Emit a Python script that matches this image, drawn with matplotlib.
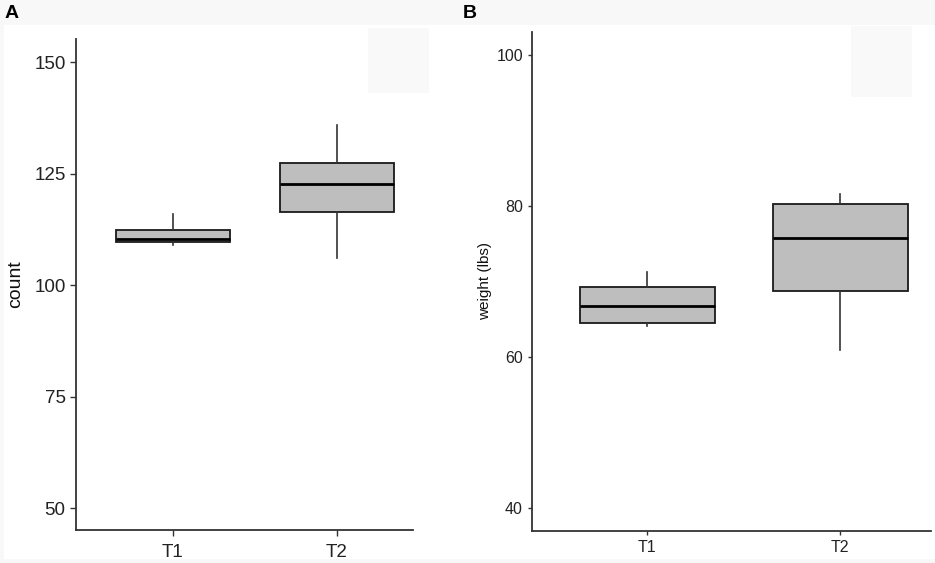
import matplotlib
matplotlib.use("Agg")
import matplotlib.pyplot as plt
from matplotlib.patches import Rectangle

plt.rcParams['font.family'] = ['Liberation Sans', 'DejaVu Sans']

# ---- data ----
groups = ["T1", "T2"]
# panel A: count
count_whislo = [109.1, 106.1]
count_q1 = [109.7, 116.4]
count_med = [110.4, 122.7]
count_q3 = [112.3, 127.5]
count_whishi = [115.9, 135.9]
count_ticks = [50, 75, 100, 125, 150]
# panel B: weight
weight_whislo = [64.1, 60.9]
weight_q1 = [64.5, 68.7]
weight_med = [66.8, 75.7]
weight_q3 = [69.3, 80.3]
weight_whishi = [71.3, 81.6]
weight_ticks = [40, 60, 80, 100]

W, H = 935, 563
fig = plt.figure(figsize=(W / 100, H / 100), dpi=100, facecolor='white')

band = '#f8f8f8'
fig.patches.append(Rectangle((0, 1 - 25 / H), 1, 25 / H, transform=fig.transFigure,
                             facecolor=band, edgecolor='none', zorder=-5))
fig.patches.append(Rectangle((0, 0), 1, 4 / H, transform=fig.transFigure,
                             facecolor=band, edgecolor='none', zorder=-5))
fig.patches.append(Rectangle((0, 0), 4 / W, 1, transform=fig.transFigure,
                             facecolor=band, edgecolor='none', zorder=-5))
for (x0, x1, y0, y1) in [(368, 429, 28, 93), (851, 912, 26, 97)]:
    fig.patches.append(Rectangle((x0 / W, 1 - y1 / H), (x1 - x0) / W, (y1 - y0) / H,
                                 transform=fig.transFigure, facecolor='#f9f9f9',
                                 edgecolor='none', zorder=-4))


def make_ax(l, r, b, t):
    return fig.add_axes([l / W, 1 - b / H, (r - l) / W, (b - t) / H])


def draw(ax, lo, q1, med, q3, hi, ticks, ylim, xlim, tsize, ylabel, lsize, labx,
         ticklen, xpad):
    stats = []
    for i, g in enumerate(groups):
        stats.append(dict(label=g, whislo=lo[i], q1=q1[i], med=med[i], q3=q3[i],
                          whishi=hi[i], fliers=[]))
    ax.bxp(stats, positions=[1, 2], widths=0.70, patch_artist=True, showcaps=False,
           showfliers=False,
           boxprops=dict(facecolor='#bebebe', edgecolor='#1a1a1a', linewidth=1.3),
           medianprops=dict(color='black', linewidth=2.0),
           whiskerprops=dict(color='#333333', linewidth=1.2))
    ax.set_xlim(*xlim)
    ax.set_ylim(*ylim)
    ax.set_yticks(ticks)
    ax.set_xticks([1, 2])
    ax.set_xticklabels(groups)
    for s in ['top', 'right']:
        ax.spines[s].set_visible(False)
    for s in ['left', 'bottom']:
        ax.spines[s].set_color('#333333')
        ax.spines[s].set_linewidth(1.3)
    ax.tick_params(axis='both', labelsize=tsize, colors='#333333', labelcolor='#222222',
                   length=ticklen, width=1.0, pad=3.5)
    ax.tick_params(axis='x', pad=xpad)
    ax.set_ylabel(ylabel, fontsize=lsize, color='#111111')
    ax.yaxis.set_label_coords(labx, 0.5)
    ax.set_facecolor('none')


axA = make_ax(76, 413, 530, 39)
draw(axA, count_whislo, count_q1, count_med, count_q3, count_whishi, count_ticks,
     (45.1, 155.2), (0.409, 2.463), 13.5, 'count', 14, -0.154, 4, 6.0)

axB = make_ax(532, 931, 531, 32)
draw(axB, weight_whislo, weight_q1, weight_med, weight_q3, weight_whishi, weight_ticks,
     (37.0, 103.0), (0.404, 2.47), 11.5, 'weight (lbs)', 11, -0.100, 3, 3.5)

fig.text(5 / W, 1 - 13 / H, 'A', fontsize=14, fontweight='bold', va='center', ha='left')
fig.text(463 / W, 1 - 13 / H, 'B', fontsize=14, fontweight='bold', va='center', ha='left')

fig.savefig('out.png', dpi=100, facecolor=fig.get_facecolor())
